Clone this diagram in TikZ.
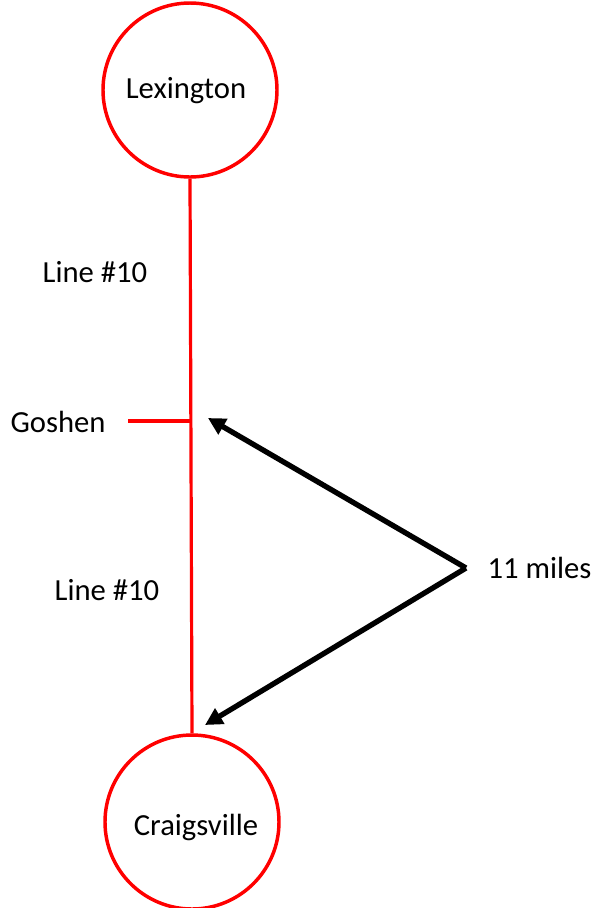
\documentclass[tikz,border=0pt]{standalone}
\usepackage{fontspec}
\setmainfont{Carlito}
\usetikzlibrary{arrows.meta,positioning}

\tikzset{
  town/.style={circle,draw=red,line width=2.6pt,minimum size=130.5pt,inner sep=0pt},
  rail/.style={draw=red,line width=2.4pt},
  label/.style={inner sep=0pt},
  miles/.style={draw=black,line width=4pt,-{Triangle[length=13pt,width=13pt]}}
}

\begin{document}
\begin{tikzpicture}[x=0.75pt,y=-0.75pt,font=\fontsize{23}{28}\selectfont]
  \useasboundingbox (0,0) rectangle (603,908);
  % the two towns
  \node[town] (lex) at (190,90) {};
  \node[label] at (186,91) {Lexington};
  \node[town] (craig) at (192,822) {};
  \node[label] at (196,827) {Craigsville};
  % the line between them
  \path[rail] (lex.south) -- (craig.north);
  \coordinate (gj) at (191,421);
  \coordinate (gtick) at (128,421);
  \path[rail] (gtick) -- (gj);
  \node[label] (goshen) at (58,422) {Goshen};
  \node[label] (line1) at (95,272) {Line \#10};
  \node[label] (line2) at (107,590) {Line \#10};
  % distance arrows
  \coordinate (apex) at (466,568);
  \coordinate (tip1) at (208,418);
  \coordinate (tip2) at (205,725);
  \node[label,right=16pt of apex] (dist) {11 miles};
  \draw[miles] (apex) -- (tip1);
  \draw[miles] (apex) -- (tip2);
\end{tikzpicture}
\end{document}
